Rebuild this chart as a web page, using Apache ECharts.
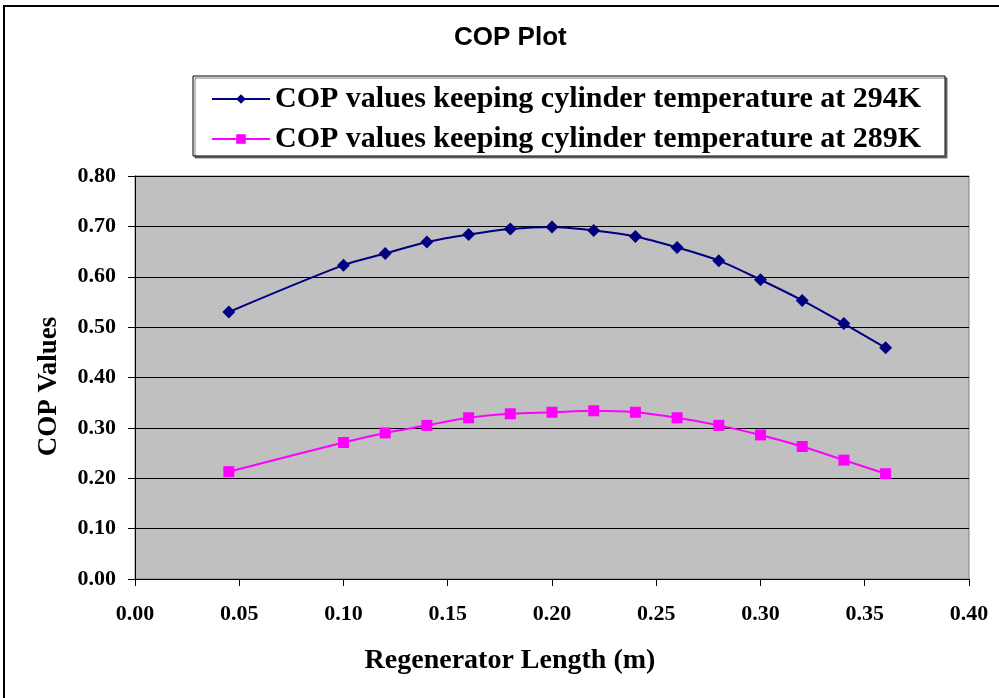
<!DOCTYPE html>
<html>
<head>
<meta charset="utf-8">
<script src="https://cdn.jsdelivr.net/npm/echarts@6/dist/echarts.min.js"></script>
<style>
html,body{margin:0;padding:0;background:#fff;}
#chart{width:999px;height:698px;}
</style>
</head>
<body>
<div id="chart"></div>
<script>
const xValues = [0.045, 0.10, 0.12, 0.14, 0.16, 0.18, 0.20, 0.22, 0.24, 0.26, 0.28, 0.30, 0.32, 0.34, 0.36];
const cop294 = [0.530, 0.623, 0.646, 0.669, 0.684, 0.695, 0.699, 0.692, 0.680, 0.658, 0.632, 0.594, 0.553, 0.507, 0.459];
const cop289 = [0.213, 0.271, 0.290, 0.305, 0.320, 0.328, 0.331, 0.334, 0.331, 0.320, 0.305, 0.286, 0.263, 0.236, 0.209];
const seriesNames = ['COP values keeping cylinder temperature at 294K', 'COP values keeping cylinder temperature at 289K'];
const titleText = 'COP Plot';
const xName = 'Regenerator Length (m)';
const yName = 'COP Values';

const serif = '"Liberation Serif", "Times New Roman", serif';
const chart = echarts.init(document.getElementById('chart'));
chart.setOption({
  animation: false,
  backgroundColor: '#fff',
  title: {
    text: titleText, left: 449, top: 20,
    textStyle: { fontFamily: '"Liberation Sans", Arial, sans-serif', fontWeight: 'bold', fontSize: 26, color: '#000' }
  },
  legend: {
    orient: 'vertical', left: 193, top: 76,
    padding: [8, 24, 2, 18], itemGap: 10,
    itemWidth: 58, itemHeight: 12,
    backgroundColor: '#fff', borderColor: '#000', borderWidth: 1,
    shadowColor: 'rgba(0,0,0,0.5)', shadowOffsetX: 2, shadowOffsetY: 2, shadowBlur: 0,
    textStyle: { fontFamily: serif, fontWeight: 'bold', fontSize: 30, color: '#000' },
    data: seriesNames
  },
  grid: {
    left: 135, right: 30, top: 176, bottom: 119,
    show: true, backgroundColor: '#c0c0c0', borderColor: '#808080', borderWidth: 1
  },
  xAxis: {
    type: 'value', min: 0, max: 0.4, interval: 0.05,
    name: xName, nameLocation: 'middle', nameGap: 68,
    nameTextStyle: { fontFamily: serif, fontWeight: 'bold', fontSize: 28, color: '#000', padding: [0, 84, 0, 0] },
    axisLine: { onZero: false, lineStyle: { color: '#000', width: 1 } },
    axisTick: { show: true, length: 7, lineStyle: { color: '#000' } },
    axisLabel: { formatter: v => v.toFixed(2), margin: 24, fontFamily: serif, fontWeight: 'bold', fontSize: 22, color: '#000' },
    splitLine: { show: false }
  },
  yAxis: {
    type: 'value', min: 0, max: 0.8, interval: 0.1,
    name: yName, nameLocation: 'middle', nameGap: 72, nameRotate: 90,
    nameTextStyle: { fontFamily: serif, fontWeight: 'bold', fontSize: 27, color: '#000', padding: [0, 18, 0, 0] },
    axisLine: { show: true, lineStyle: { color: '#000', width: 1 } },
    axisTick: { show: true, length: 7, lineStyle: { color: '#000' } },
    axisLabel: { formatter: v => v.toFixed(2), margin: 19, fontFamily: serif, fontWeight: 'bold', fontSize: 22, color: '#000' },
    splitLine: { show: true, lineStyle: { color: '#000', width: 1 } }
  },
  series: [
    {
      name: seriesNames[0], type: 'line', smooth: 0.3,
      data: xValues.map((x, i) => [x, cop294[i]]),
      symbol: 'diamond', symbolSize: 13,
      itemStyle: { color: '#000080' },
      lineStyle: { color: '#000080', width: 2 }
    },
    {
      name: seriesNames[1], type: 'line', smooth: 0.3,
      data: xValues.map((x, i) => [x, cop289[i]]),
      symbol: 'rect', symbolSize: 11,
      itemStyle: { color: '#ff00ff' },
      lineStyle: { color: '#ff00ff', width: 2 }
    }
  ],
  graphic: [
    { type: 'rect', shape: { x: 4, y: 6, width: 1000, height: 700 }, style: { fill: 'none', stroke: '#000', lineWidth: 2 }, silent: true }
  ]
});
</script>
</body>
</html>
